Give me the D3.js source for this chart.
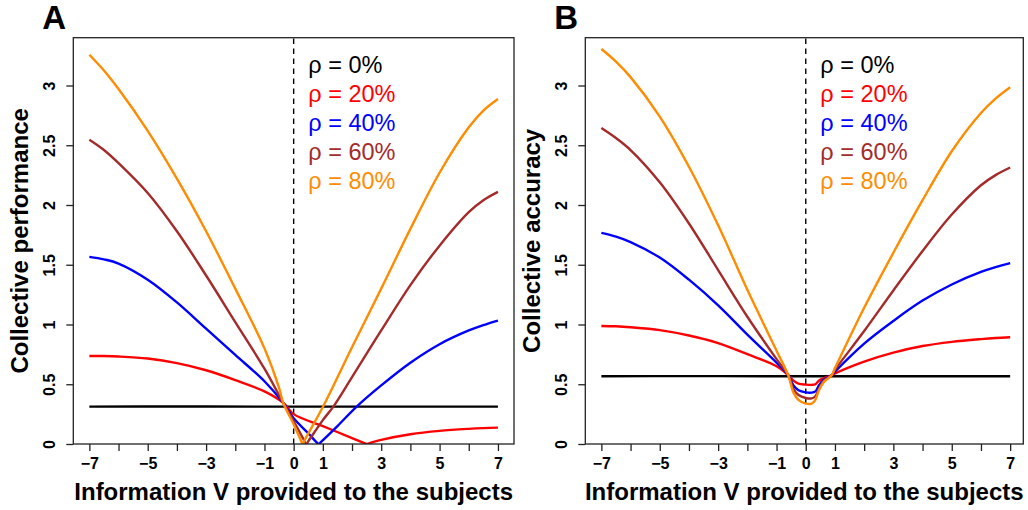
<!DOCTYPE html>
<html>
<head>
<meta charset="utf-8">
<script src="https://cdn.jsdelivr.net/npm/d3@7"></script>
<style>
  html, body { margin: 0; padding: 0; background: #fff; }
  svg { display: block; }
  text { font-family: "Liberation Sans", Arial, Helvetica, sans-serif; }
</style>
</head>
<body>
<svg id="chart" width="1028" height="510"></svg>
<script>
// ---------------- data ----------------
const rhoLabels = ["ρ = 0%", "ρ = 20%", "ρ = 40%", "ρ = 60%", "ρ = 80%"];
const seriesColors = ["#000000", "#FF0000", "#0000FF", "#A52A2A", "#FF8C00"];
const xTickValues = [-7,-6,-5,-4,-3,-2,-1,0,1,2,3,4,5,6,7];
const xLabelValues = [-7,-5,-3,-1,0,1,3,5,7];
const yTickValues = [0,0.5,1,1.5,2,2.5,3];
const xTitle = "Information V provided to the subjects";
const yTitleA = "Collective performance";
const yTitleB = "Collective accuracy";

// Panel A: collective performance, [V, value]
const perf0 = [[-7,0.313],[-4,0.314],[-1,0.313],[0,0.313],[3,0.313],[7,0.313]];
const perf20 = [[-7,0.737],[-6.5,0.736],[-6,0.732],[-5,0.715],[-4,0.677],[-3,0.617],[-2,0.535],[-1,0.44],[-0.36,0.345],[0,0.25],[1,0.15],[2,0.05],[2.4,0.01],[2.5,0],[2.6,0.008],[3,0.035],[4,0.082],[5,0.11],[6,0.127],[6.5,0.133],[7,0.137]];
const perf40 = [[-7,1.566],[-6.5,1.545],[-6,1.51],[-5,1.375],[-4,1.185],[-3,0.965],[-2,0.745],[-1,0.525],[-0.36,0.345],[0,0.215],[0.5,0.09],[0.78,0.015],[0.86,0],[0.95,0.02],[1.5,0.15],[2.16,0.313],[3,0.49],[4,0.68],[5,0.835],[6,0.95],[6.5,0.995],[7,1.033]];
const perf60 = [[-7,2.546],[-6.5,2.46],[-6,2.35],[-5,2.10],[-4,1.78],[-3,1.41],[-2,1.02],[-1,0.63],[-0.36,0.345],[0,0.19],[0.35,0.035],[0.43,0],[0.52,0.03],[1,0.20],[1.36,0.313],[2,0.56],[3,0.95],[4,1.33],[5,1.66],[6,1.94],[6.5,2.04],[7,2.11]];
const perf80 = [[-7,3.257],[-6.5,3.125],[-6,2.97],[-5,2.62],[-4,2.22],[-3,1.78],[-2,1.30],[-1,0.80],[-0.5,0.47],[-0.36,0.345],[0,0.165],[0.24,0.035],[0.31,0],[0.38,0.035],[1,0.31],[2,0.81],[3,1.30],[4,1.80],[5,2.27],[6,2.65],[6.5,2.79],[7,2.887]];

// Panel B: collective accuracy, [V, value]
const acc0 = [[-7,0.567],[-4,0.568],[-1,0.567],[0,0.567],[3,0.567],[7,0.567]];
const acc20 = [[-7,0.988],[-6.5,0.985],[-6,0.977],[-5,0.953],[-4,0.908],[-3,0.845],[-2,0.752],[-1,0.65],[-0.6,0.575],[-0.42,0.53],[-0.25,0.505],[0,0.497],[0.2,0.495],[0.33,0.50],[0.45,0.53],[0.62,0.55],[0.88,0.573],[1,0.59],[2,0.69],[3,0.765],[4,0.82],[5,0.855],[6,0.878],[6.5,0.887],[7,0.893]];
const acc40 = [[-7,1.767],[-6.5,1.735],[-6,1.69],[-5,1.56],[-4,1.375],[-3,1.16],[-2,0.915],[-1,0.68],[-0.6,0.575],[-0.42,0.49],[-0.25,0.45],[0,0.432],[0.2,0.43],[0.33,0.44],[0.45,0.49],[0.62,0.54],[0.88,0.573],[1,0.605],[2,0.84],[3,1.03],[4,1.20],[5,1.335],[6,1.44],[6.5,1.48],[7,1.513]];
const acc60 = [[-7,2.644],[-6.5,2.56],[-6,2.46],[-5,2.19],[-4,1.845],[-3,1.455],[-2,1.065],[-1,0.71],[-0.6,0.575],[-0.42,0.46],[-0.25,0.41],[0,0.385],[0.2,0.382],[0.33,0.40],[0.45,0.46],[0.62,0.53],[0.88,0.573],[1,0.62],[2,0.945],[3,1.285],[4,1.615],[5,1.92],[6,2.165],[6.5,2.25],[7,2.314]];
const acc80 = [[-7,3.305],[-6.5,3.2],[-6,3.07],[-5,2.74],[-4,2.32],[-3,1.83],[-2,1.29],[-1,0.78],[-0.6,0.575],[-0.42,0.43],[-0.25,0.37],[0,0.338],[0.2,0.338],[0.33,0.37],[0.45,0.45],[0.62,0.52],[0.88,0.573],[1,0.635],[2,1.14],[3,1.60],[4,2.04],[5,2.45],[6,2.77],[6.5,2.89],[7,2.985]];

// ---------------- layout ----------------
const svg = d3.select("#chart");
const plotTop = 37.7, plotBottom = 444;
const panels = [
  { letter: "A", left: 73.3, right: 514, xDomain: [-7.55, 7.55], yTitle: yTitleA,
    series: [perf0, perf20, perf40, perf60, perf80] },
  { letter: "B", left: 585.3, right: 1023.3, xDomain: [-7.55, 7.45], yTitle: yTitleB,
    series: [acc0, acc20, acc40, acc60, acc80] }
];
const axisColor = "#222";
const fmt = d => d < 0 ? "\u2212" + Math.abs(d) : String(d);
const defs = svg.append("defs");

panels.forEach((p, pi) => {
  const x = d3.scaleLinear().domain(p.xDomain).range([p.left, p.right]);
  const y = d3.scaleLinear().domain([0, 3.4]).range([plotBottom, plotTop]);
  const g = svg.append("g");

  const clipId = "clip" + pi;
  defs.append("clipPath").attr("id", clipId)
    .append("rect")
    .attr("x", p.left).attr("y", plotTop)
    .attr("width", p.right - p.left).attr("height", plotBottom - plotTop);

  // dashed line at V = 0
  g.append("line")
    .attr("x1", x(0)).attr("x2", x(0))
    .attr("y1", y(0)).attr("y2", y(3.4))
    .attr("stroke", "#000").attr("stroke-width", 1.4)
    .attr("stroke-dasharray", "5.5,4.5");

  // series lines
  const line = d3.line().x(d => x(d[0])).y(d => y(d[1])).curve(d3.curveCatmullRom.alpha(0.5));
  const lg = g.append("g").attr("clip-path", `url(#${clipId})`);
  p.series.forEach((s, i) => {
    lg.append("path").datum(s)
      .attr("d", line)
      .attr("fill", "none")
      .attr("stroke", seriesColors[i])
      .attr("stroke-width", 2.4)
      .attr("stroke-linejoin", "round");
  });

  // box
  g.append("rect")
    .attr("x", p.left).attr("y", plotTop)
    .attr("width", p.right - p.left).attr("height", plotBottom - plotTop)
    .attr("fill", "none").attr("stroke", axisColor).attr("stroke-width", 1.3);

  // x axis
  const xAxis = d3.axisBottom(x).tickValues(xTickValues)
    .tickFormat(d => xLabelValues.includes(d) ? fmt(d) : "")
    .tickSize(7).tickSizeOuter(0).tickPadding(7);
  const gx = g.append("g").attr("transform", `translate(0,${plotBottom})`).call(xAxis);
  gx.select(".domain").remove();
  gx.selectAll(".tick line").attr("stroke", axisColor).attr("stroke-width", 1.3);
  gx.selectAll(".tick text")
    .attr("fill", "#000")
    .style("font-family", "'Liberation Sans', Arial, sans-serif")
    .style("font-size", "16px").style("font-weight", "bold");

  // y axis
  const yAxis = d3.axisLeft(y).tickValues(yTickValues).tickFormat(d => String(d))
    .tickSize(7).tickSizeOuter(0);
  const gy = g.append("g").attr("transform", `translate(${p.left},0)`).call(yAxis);
  gy.select(".domain").remove();
  gy.selectAll(".tick line").attr("stroke", axisColor).attr("stroke-width", 1.3);
  gy.selectAll(".tick text")
    .attr("transform", "rotate(-90)")
    .attr("x", 0).attr("y", -18.3).attr("dy", 0)
    .attr("text-anchor", "middle")
    .attr("fill", "#000")
    .style("font-family", "'Liberation Sans', Arial, sans-serif")
    .style("font-size", "16px").style("font-weight", "bold");

  // axis titles
  g.append("text")
    .attr("x", (p.left + p.right) / 2).attr("y", 500)
    .attr("text-anchor", "middle")
    .style("font-size", "24px").style("font-weight", "bold")
    .text(xTitle);
  g.append("text")
    .attr("transform", `translate(${p.left - 45},${(plotTop + plotBottom) / 2}) rotate(-90)`)
    .attr("text-anchor", "middle")
    .style("font-size", "24px").style("font-weight", "bold")
    .text(p.yTitle);

  // panel letter
  g.append("text")
    .attr("x", p.left - 31).attr("y", 28.5)
    .style("font-size", "33px").style("font-weight", "bold")
    .text(p.letter);

  // legend
  rhoLabels.forEach((lab, i) => {
    g.append("text")
      .attr("x", x(0) + 14.6).attr("y", 73.3 + i * 28.9)
      .attr("fill", seriesColors[i])
      .style("font-size", "23.5px")
      .text(lab);
  });
});
</script>
</body>
</html>
